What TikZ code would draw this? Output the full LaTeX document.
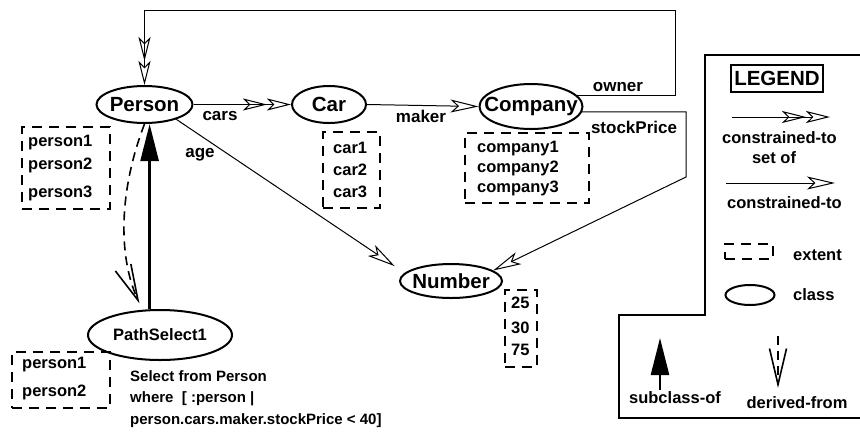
\documentclass[tikz,border=0pt]{standalone}
\usepackage{fontspec}
\setmainfont{Liberation Sans}
\usetikzlibrary{arrows.meta,shapes.geometric}
% zero-width label so the ellipse keeps its own size
\newcommand\cname[1]{\makebox[0pt]{#1}}
\begin{document}
\begin{tikzpicture}[x=1bp,y=-1bp,
  cls/.style={ellipse,draw,line width=2bp,inner sep=0pt,
    font=\fontsize{20.5bp}{24bp}\selectfont\bfseries},
  extent/.style={draw,line width=2bp,dash pattern=on 10bp off 7bp,inner sep=0pt},
  item/.style={anchor=west,inner sep=0pt,font=\fontsize{16.5bp}{20bp}\selectfont\bfseries},
  lbl/.style={inner sep=0pt,font=\fontsize{17bp}{20bp}\selectfont\bfseries},
  leglbl/.style={inner sep=0pt,font=\fontsize{16.5bp}{20bp}\selectfont\bfseries},
  conn/.style={line width=1bp},
  setof/.style={conn,-{Stealth[open,length=24bp,width=12bp,inset=6bp,line width=1bp]
                      Stealth[open,length=24bp,width=12bp,inset=6bp,line width=1bp]}},
  constr/.style={conn,-{Stealth[open,length=28bp,width=13bp,inset=7bp,line width=1bp]}},
  subcl/.style={line width=2.5bp,-{Triangle[length=37bp,width=18bp]}},
  derived/.style={line width=1.6bp,dash pattern=on 9bp off 6bp,
    -{Straight Barb[length=36bp,width=17bp,line width=1.6bp]}},
]
\useasboundingbox (0,0) rectangle (860,431);

% classes
\node[cls,minimum width=96bp,minimum height=37bp] (person) at (144.5,104.5) {\cname{Person}};
\node[cls,minimum width=74bp,minimum height=37bp] (car) at (329,104.5) {\cname{Car}};
\node[cls,minimum width=103bp,minimum height=45bp] (company) at (531,106.5) {\cname{Company}};
\node[cls,minimum width=102bp,minimum height=34bp] (number) at (451,281) {\cname{Number}};
\node[cls,minimum width=144bp,minimum height=50bp,font=\fontsize{16.5bp}{20bp}\selectfont\bfseries]
  (pathsel) at (160,335) {\cname{PathSelect1}};

% extents
\node[extent,minimum width=88bp,minimum height=82bp] (pbox) at (66,168) {};
\node[item] (p1) at (28,143) {person1};
\node[item] (p2) at (28,165) {person2};
\node[item] (p3) at (28,193) {person3};

\node[extent,minimum width=57bp,minimum height=76bp] (carbox) at (351.5,170) {};
\node[item] (c1) at (333,148) {car1};
\node[item] (c2) at (333,170) {car2};
\node[item] (c3) at (333,192) {car3};

\node[extent,minimum width=124bp,minimum height=70bp] (compbox) at (527,168) {};
\node[item] (k1) at (477,149) {company1};
\node[item] (k2) at (477,168) {company2};
\node[item] (k3) at (477,188) {company3};

\node[extent,minimum width=32bp,minimum height=77bp] (numbox) at (521,328.5) {};
\node[item] (n1) at (511,303) {25};
\node[item] (n2) at (511,328) {30};
\node[item] (n3) at (511,350) {75};

\node[extent,minimum width=98bp,minimum height=56bp] (psbox) at (61,380) {};
\node[item] (q1) at (22,365) {person1};
\node[item] (q2) at (22,392) {person2};

\node[anchor=west,inner sep=0pt,align=left,font=\fontsize{15bp}{21.5bp}\selectfont\bfseries]
  (query) at (130,399) {Select from Person\\where\ \ [ :person |\\person.cars.maker.stockPrice < 40]};

% attributes
\coordinate (ownerturn) at (675,10);
\coordinate (priceturn) at (686,177);
\draw[setof] (company.14) -| (ownerturn) -| (person.north);
\draw[constr] (company.-6) -| (priceturn) -- (number.14);
\draw[setof] (person.east) -- (car.west);
\draw[constr] (car.east) -- (company.west);
\draw[constr,shorten >=12bp] (person.-25) -- (number.170);

\node[lbl] (owner) at (618,87) {owner};
\node[lbl] (stockprice) at (634,127) {stockPrice};
\node[lbl] (cars) at (220,116) {cars};
\node[lbl] (maker) at (421,116) {maker};
\node[lbl] (age) at (200,155) {age};

% derived class
\draw[subcl] (pathsel.112) -- (pathsel.112 |- person.south);
\draw[derived,shorten >=7bp] (person.south) .. controls +(-25,65) and +(-25,-55) .. (pathsel.125);

% legend
\draw[line width=2bp] (860,55) -- (705,55) -- (705,315) -- (619,315) -- (619,418) -- (860,418);
\node[draw,line width=2bp,inner sep=0pt,minimum width=92bp,minimum height=27bp,
  font=\fontsize{20.5bp}{24bp}\selectfont\bfseries] (legendtitle) at (777,78.5) {LEGEND};

\coordinate (la1) at (732,117);
\coordinate (lb1) at (830,117);
\draw[setof] (la1) -- (lb1);
\node[leglbl] (lt1) at (779.5,138) {constrained-to};
\node[leglbl] (lt1b) at (774,158) {set of};

\coordinate (la2) at (726,183);
\coordinate (lb2) at (835,183);
\draw[constr] (la2) -- (lb2);
\node[leglbl] (lt2) at (784.5,203) {constrained-to};

\node[extent,minimum width=48bp,minimum height=15bp] (extsym) at (749,251.5) {};
\node[item] (lt3) at (793,255) {extent};

\node[ellipse,draw,line width=2bp,inner sep=0pt,minimum width=49bp,minimum height=20bp] (clssym) at (750,295) {};
\node[item] (lt4) at (793,295) {class};

\coordinate (sa) at (660,390);
\coordinate (sb) at (660,338);
\draw[subcl] (sa) -- (sb);
\node[leglbl] (lt5) at (675,398) {subclass-of};

\coordinate (da) at (778,336);
\coordinate (db) at (778,388);
\draw[derived] (da) -- (db);
\node[leglbl] (lt6) at (797,403) {derived-from};
\end{tikzpicture}
\end{document}
